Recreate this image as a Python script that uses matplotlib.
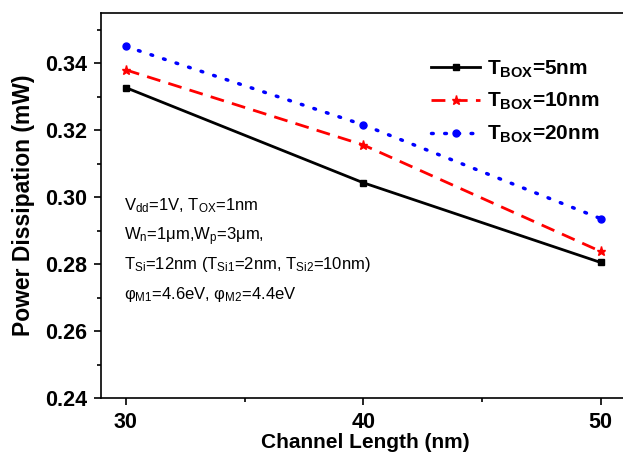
import matplotlib
matplotlib.use("Agg")
import matplotlib.pyplot as plt
from matplotlib.ticker import MultipleLocator, FormatStrFormatter

plt.rcParams['font.family'] = ['Liberation Sans', 'DejaVu Sans']
plt.rcParams['mathtext.fontset'] = 'custom'
plt.rcParams['mathtext.rm'] = 'Liberation Sans'
plt.rcParams['mathtext.it'] = 'Liberation Sans:italic'
plt.rcParams['mathtext.bf'] = 'Liberation Sans:bold'

# Channel length (nm) and power dissipation (mW) for each buried-oxide thickness
channel_length = [30, 40, 50]
power_tbox5 = [0.3327, 0.3043, 0.2805]
power_tbox10 = [0.3380, 0.3156, 0.2838]
power_tbox20 = [0.3450, 0.3216, 0.2936]
labels = [r"T$_{\mathbf{BOX}}$=5nm", r"T$_{\mathbf{BOX}}$=10nm", r"T$_{\mathbf{BOX}}$=20nm"]

W, H = 623, 461
fig = plt.figure(figsize=(W / 100, H / 100), dpi=100)
ax = fig.add_axes([101 / W, 1 - 398 / H, 528 / W, (398 - 13) / H])

ax.plot(channel_length, power_tbox5, color='black', lw=2.0, marker='s', ms=4, label=labels[0])
ax.plot(channel_length, power_tbox10, color='red', lw=2.0, ls=(0, (5, 3)), marker='*', ms=6.5,
        label=labels[1])
ax.plot(channel_length, power_tbox20, color='blue', lw=2.5, ls=(0, (0.5, 3.3)), marker='o', ms=5,
        dash_capstyle='round', label=labels[2])

ax.set_xlim(28.95, 51.2)
ax.set_ylim(0.24, 0.355)
ax.xaxis.set_major_locator(MultipleLocator(10))
ax.xaxis.set_minor_locator(MultipleLocator(5))
ax.yaxis.set_major_locator(MultipleLocator(0.02))
ax.yaxis.set_minor_locator(MultipleLocator(0.01))
ax.yaxis.set_major_formatter(FormatStrFormatter('%.2f'))

ax.tick_params(which='both', direction='out', top=False, right=False, width=1.2)
ax.tick_params(which='major', length=5, labelsize=15.5, pad=5)
ax.tick_params(which='minor', length=3)
for lab in ax.get_xticklabels() + ax.get_yticklabels():
    lab.set_fontweight('bold')
for sp in ax.spines.values():
    sp.set_linewidth(1.2)
ax.spines['right'].set_visible(False)

ax.set_xlabel("Channel Length (nm)", fontsize=15, fontweight='bold', labelpad=0)
ax.set_ylabel("Power Dissipation (mW)", fontsize=16.5, fontweight='bold', labelpad=7)

leg = ax.legend(loc='upper left', bbox_to_anchor=(0.61, 0.904), frameon=False,
                prop={'size': 15, 'weight': 'bold'}, handlelength=2.35, handletextpad=0.3,
                labelspacing=0.55, borderaxespad=0)

notes = [
    r"V$_{\rm dd}$=1V, T$_{\rm OX}$=1nm",
    r"W$_{\rm n}$=1μm,W$_{\rm p}$=3μm,",
    r"T$_{\rm Si}$=12nm (T$_{\rm Si1}$=2nm, T$_{\rm Si2}$=10nm)",
    r"φ$_{\rm M1}$=4.6eV, φ$_{\rm M2}$=4.4eV",
]
for i, t in enumerate(notes):
    ax.text(29.9, 0.2961 - i * 0.00885, t, fontsize=12, va='baseline')

fig.savefig("out.png", dpi=100)
